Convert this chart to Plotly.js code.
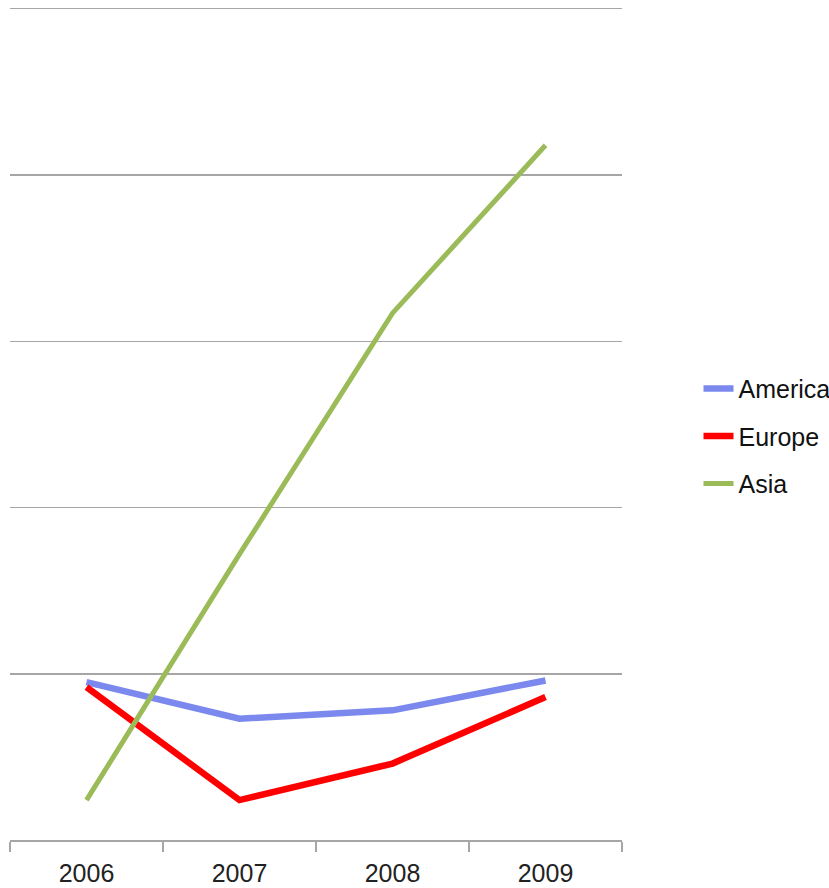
<!DOCTYPE html>
<html>
<head>
<meta charset="utf-8">
<script src="https://cdn.plot.ly/plotly-3.0.1.min.js"></script>
<style>html,body{margin:0;padding:0;background:#fff;} #chart{width:829px;height:888px;}</style>
</head>
<body>
<div id="chart"></div>
<script>
var years = ["2006", "2007", "2008", "2009"];
var america = [9.5, 7.3, 7.8, 9.6];
var europe = [9.2, 2.4, 4.6, 8.6];
var asia = [2.4, 17.2, 31.7, 41.8];

var seriesNames = ["America", "Europe", "Asia"];
var seriesColors = ["#7b88ee", "#ff0000", "#9bbb59"];
var seriesWidths = [6.5, 6.5, 5];
var seriesValues = [america, europe, asia];

var traces = seriesValues.map(function (vals, i) {
  return {
    x: years,
    y: vals,
    type: "scatter",
    mode: "lines",
    name: seriesNames[i],
    legendgroup: "g" + i,
    line: {color: seriesColors[i], width: seriesWidths[i]},
    hoverinfo: "skip"
  };
});

var layout = {
  width: 829,
  height: 888,
  margin: {l: 10, r: 207, t: 9, b: 48, pad: 0, autoexpand: false},
  paper_bgcolor: "#ffffff",
  plot_bgcolor: "#ffffff",
  font: {family: "Liberation Sans, Arial, sans-serif", size: 25, color: "#222222"},
  showlegend: true,
  legend: {
    x: 1.125, xanchor: "left",
    y: 0.486, yanchor: "middle",
    font: {size: 25, color: "#111111"},
    tracegroupgap: 12,
    bgcolor: "rgba(0,0,0,0)",
    borderwidth: 0
  },
  xaxis: {
    type: "category",
    range: [-0.5, 3.5],
    tickson: "boundaries",
    ticks: "outside",
    ticklen: 10,
    tickwidth: 1.5,
    tickcolor: "#a6a6a6",
    showline: true,
    mirror: true,
    linecolor: "#a6a6a6",
    linewidth: 1.5,
    showgrid: false,
    zeroline: false,
    ticklabelstandoff: 10,
    tickfont: {size: 25, color: "#222222"},
    fixedrange: true
  },
  yaxis: {
    range: [0, 50],
    dtick: 10,
    showticklabels: false,
    ticks: "",
    showgrid: true,
    gridcolor: "#a6a6a6",
    gridwidth: 1.5,
    zeroline: false,
    showline: false,
    fixedrange: true
  }
};

Plotly.newPlot("chart", traces, layout, {displayModeBar: false, staticPlot: true});
</script>
</body>
</html>
